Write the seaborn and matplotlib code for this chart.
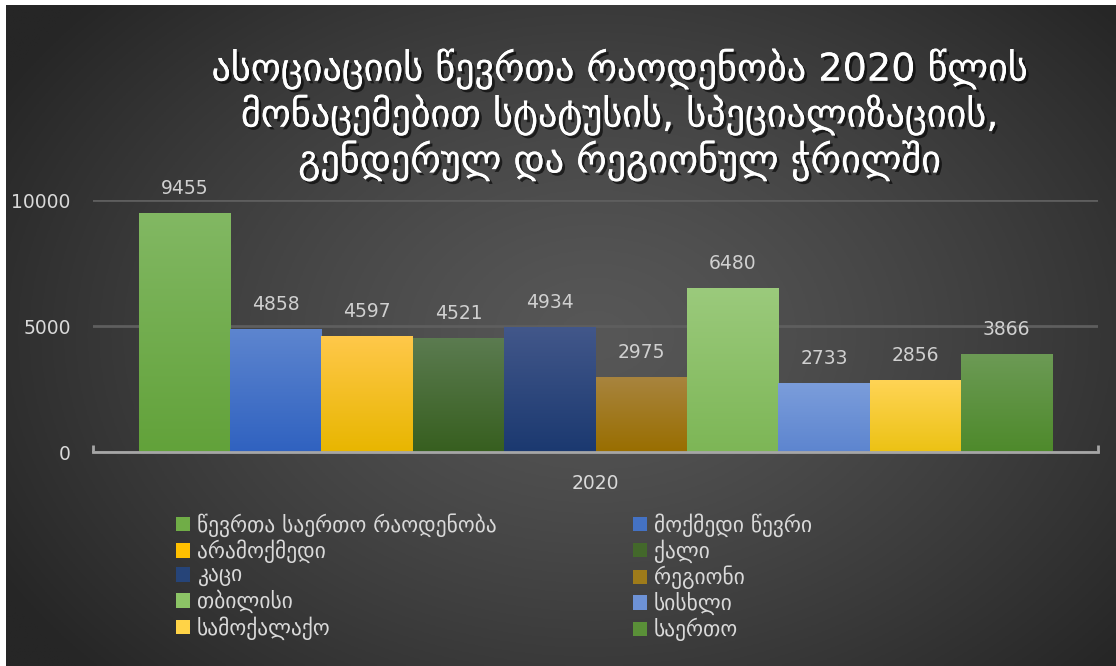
import numpy as np
import pandas as pd
import matplotlib
matplotlib.use('Agg')
import matplotlib.pyplot as plt
import matplotlib.patheffects as pe
from matplotlib.patches import Patch
from matplotlib.colors import to_rgb
import seaborn as sns

# chart data
title = ('ასოციაციის წევრთა რაოდენობა 2020 წლის\n'
         'მონაცემებით სტატუსის, სპეციალიზაციის,\n'
         'გენდერულ და რეგიონულ ჭრილში')
year = '2020'
series = ['წევრთა საერთო რაოდენობა', 'მოქმედი წევრი', 'არამოქმედი', 'ქალი', 'კაცი',
          'რეგიონი', 'თბილისი', 'სისხლი', 'სამოქალაქო', 'საერთო']
values = [9455, 4858, 4597, 4521, 4934, 2975, 6480, 2733, 2856, 3866]
yticks = [0, 5000, 10000]

# bar colours (top of gradient, bottom of gradient, flat colour for legend)
top_colors = ['#82b863', '#5d85cf', '#ffc84a', '#5b7b50', '#42578a',
              '#a8843e', '#9bca7c', '#7b9ddb', '#ffd455', '#6c9a55']
bottom_colors = ['#62a23a', '#3062c0', '#e8b600', '#375f1f', '#1b3970',
                 '#996e00', '#7db656', '#5d85cf', '#ecc214', '#4e8a2b']
flat_colors = ['#70ad47', '#4472c4', '#ffc000', '#43682b', '#264478',
               '#9e7b1a', '#8cc466', '#6d92d6', '#ffd347', '#5a9038']

df = pd.DataFrame({'year': [year] * len(series), 'series': series, 'value': values})

W, H = 1116, 666
fig = plt.figure(figsize=(W / 100, H / 100), dpi=100)
fig.patch.set_facecolor('white')

# radial dark background
bg = fig.add_axes([6 / W, 0, 1 - 6 / W, 1 - 5 / H], zorder=0)
gx, gy = np.meshgrid(np.linspace(0, 1, 400), np.linspace(0, 1, 240))
r = np.sqrt(((gx - 0.53) / 0.62) ** 2 + ((gy - 0.5) / 0.75) ** 2)
t = np.clip(r, 0, 1) ** 1.3
c_in, c_out = 0x57 / 255, 0x26 / 255
shade = c_in + (c_out - c_in) * t
bg.imshow(np.dstack([shade, shade, shade]), aspect='auto', extent=[0, 1, 0, 1])
bg.axis('off')

ax = fig.add_axes([93 / W, 1 - 452 / H, (1098 - 93) / W, (452 - 200) / H], zorder=1)
ax.set_facecolor('none')

palette = dict(zip(series, flat_colors))
sns.barplot(data=df, x='year', y='value', hue='series', hue_order=series,
            palette=palette, saturation=1, width=0.8, legend=False, ax=ax)

# vertical gradient on each bar
for p, top, bot in zip(ax.patches, top_colors, bottom_colors):
    x0, y0, w, h = p.get_x(), p.get_y(), p.get_width(), p.get_height()
    grad = np.linspace(to_rgb(top), to_rgb(bot), 100).reshape(100, 1, 3)
    ax.imshow(grad, extent=[x0, x0 + w, y0, y0 + h], aspect='auto',
              origin='upper', zorder=2, interpolation='bilinear')

for cont in ax.containers:
    ax.bar_label(cont, padding=11, fontsize=13.5, color='#d0d0d0')

xlim = (-0.44, 0.44)
ax.set_xlim(*xlim)
ax.set_ylim(0, 10000)
ax.set_yticks(yticks)
ax.set_yticklabels([str(v) for v in yticks])
ax.set_xlabel('')
ax.set_ylabel('')
ax.yaxis.grid(True, color='#5e5e5e', lw=2)
ax.xaxis.grid(False)
ax.set_axisbelow(True)
for s in ['top', 'left', 'right']:
    ax.spines[s].set_visible(False)
ax.spines['bottom'].set_color('#a6a6a6')
ax.spines['bottom'].set_linewidth(2)
ax.spines['bottom'].set_zorder(3)
ax.tick_params(axis='y', length=0, pad=16, labelsize=13.5, labelcolor='#d9d9d9')
ax.tick_params(axis='x', which='major', length=0, pad=16, labelsize=13.5, labelcolor='#d9d9d9')
ax.set_xticks(list(xlim), minor=True)
ax.tick_params(axis='x', which='minor', direction='in', length=5, width=2, color='#a6a6a6')

# title with shadow
fig.text(620 / W, 1 - 115 / H, title, ha='center', va='center', multialignment='center',
         fontsize=27.5, color='white', linespacing=1.15,
         path_effects=[pe.withSimplePatchShadow(offset=(2, -2), shadow_rgbFace='black', alpha=0.6),
                       pe.Normal()])

# legend in two columns, filled row by row
handles = [Patch(facecolor=c, edgecolor='none') for c in flat_colors]
leg_kw = dict(loc='upper left', frameon=False, fontsize=15.5, labelcolor='#d9d9d9',
              handlelength=0.65, handleheight=0.65, handletextpad=0.33,
              labelspacing=0.13, borderpad=0, borderaxespad=0)
fig.legend(handles[0::2], series[0::2], bbox_to_anchor=(176 / W, 1 - 513 / H), **leg_kw)
fig.legend(handles[1::2], series[1::2], bbox_to_anchor=(633 / W, 1 - 513 / H), **leg_kw)

fig.savefig('out.png', dpi=100, facecolor=fig.get_facecolor())
